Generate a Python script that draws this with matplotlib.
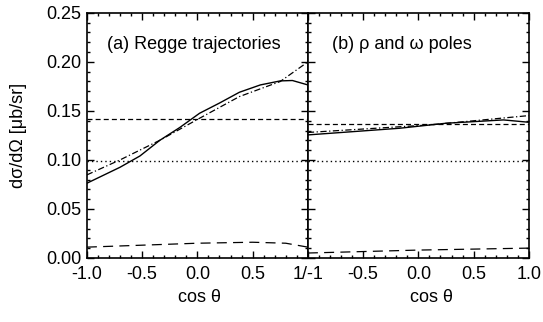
import numpy as np
import matplotlib.pyplot as plt
from matplotlib.ticker import MultipleLocator

plt.rcParams['font.family'] = ['Liberation Sans', 'DejaVu Sans']
plt.rcParams['font.size'] = 13

# panel (a): Regge trajectories
xa_full = [-1.0, -0.7, -0.52, -0.34, -0.16, 0.02, 0.2, 0.38, 0.57, 0.75, 0.86, 1.0]
ya_full = [0.0762, 0.0925, 0.104, 0.120, 0.133, 0.1476, 0.158, 0.169, 0.1765, 0.1806, 0.181, 0.1765]
xa_dd = [-1.0, -0.7, -0.34, 0.02, 0.38, 0.75, 1.0]
ya_dd = [0.0847, 0.100, 0.120, 0.1425, 0.1646, 0.180, 0.200]
xa_ld = [-1.0, -0.5, 0.0, 0.5, 0.8, 1.0]
ya_ld = [0.011, 0.013, 0.015, 0.016, 0.015, 0.011]
ya_dash = 0.142
ya_dot = 0.099

# panel (b): rho and omega poles
xb_full = [-1.0, -0.17, 0.25, 0.77, 1.0]
yb_full = [0.1255, 0.1323, 0.1374, 0.1408, 0.1384]
xb_dd = [-1.0, 0.1, 1.0]
yb_dd = [0.128, 0.1357, 0.1452]
xb_ld = [-1.0, 0.0, 1.0]
yb_ld = [0.005, 0.008, 0.010]
yb_dash = 0.1364
yb_dot = 0.099

fig, (ax1, ax2) = plt.subplots(1, 2, figsize=(5.43, 3.22), sharey=True)
fig.subplots_adjust(left=0.160, right=0.974, top=0.960, bottom=0.199, wspace=0)

def draw(ax, xf, yf, xd, yd, xl, yl, ydash, ydot):
    ax.plot(xf, yf, color='black', lw=1)
    ax.plot(xd, yd, color='black', lw=0.9, dashes=(5, 2, 1, 2))
    ax.plot(xl, yl, color='black', lw=0.9, dashes=(8, 5))
    ax.plot([-1, 1], [ydash, ydash], color='black', lw=0.9, dashes=(4, 2.5))
    ax.plot([-1, 1], [ydot, ydot], color='black', lw=1, dashes=(1, 2.2))
    ax.set_xlim(-1, 1)
    ax.set_ylim(0, 0.25)
    ax.xaxis.set_major_locator(MultipleLocator(0.5))
    ax.xaxis.set_minor_locator(MultipleLocator(0.1))
    ax.yaxis.set_major_locator(MultipleLocator(0.05))
    ax.yaxis.set_minor_locator(MultipleLocator(0.01))
    ax.tick_params(which='both', direction='in', top=True, right=True, width=1)
    ax.tick_params(which='major', length=5, labelsize=13, pad=4)
    ax.tick_params(axis='x', which='major', pad=6)
    ax.tick_params(which='minor', length=2.5)
    for s in ax.spines.values():
        s.set_linewidth(1.2)

draw(ax1, xa_full, ya_full, xa_dd, ya_dd, xa_ld, ya_ld, ya_dash, ya_dot)
draw(ax2, xb_full, yb_full, xb_dd, yb_dd, xb_ld, yb_ld, yb_dash, yb_dot)

ax1.set_xticks([-1, -0.5, 0, 0.5, 1])
ax1.set_xticklabels(['-1.0', '-0.5', '0.0', '0.5', '1/-1'])
ax2.set_xticks([-1, -0.5, 0, 0.5, 1])
ax2.set_xticklabels(['', '-0.5', '0.0', '0.5', '1.0'])
ax1.set_yticks([0, 0.05, 0.10, 0.15, 0.20, 0.25])
ax1.set_yticklabels(['0.00', '0.05', '0.10', '0.15', '0.20', '0.25'])
ax2.tick_params(labelleft=False)

ax1.set_xlabel('cos θ')
ax2.set_xlabel('cos θ')
ax1.xaxis.set_label_coords(0.51, -0.125)
ax2.xaxis.set_label_coords(0.56, -0.125)
ax1.set_ylabel('dσ/dΩ [μb/sr]')
ax1.yaxis.set_label_coords(-0.27, 0.5)

ax1.text(-0.82, 0.218, '(a) Regge trajectories', va='center', ha='left', fontsize=13)
ax2.text(-0.78, 0.218, '(b) ρ and ω poles', va='center', ha='left', fontsize=13)

fig.savefig('out.png', dpi=100)
